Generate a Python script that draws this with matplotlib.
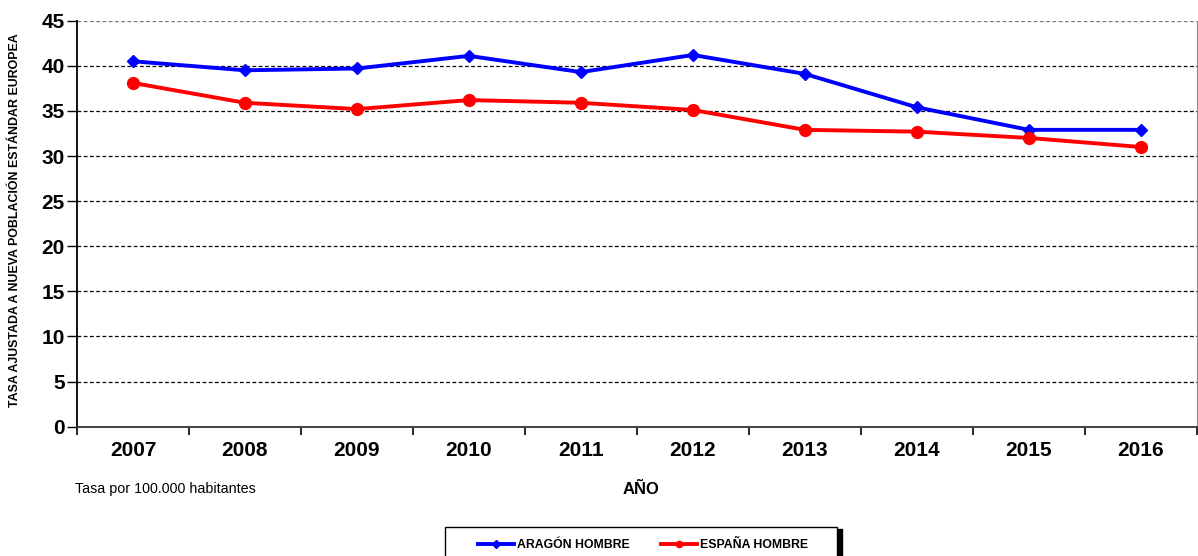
import matplotlib.pyplot as plt
import matplotlib.patches as mpatches
import numpy as np

plt.switch_backend("Agg")
plt.rcParams['font.family'] = ['Liberation Sans', 'DejaVu Sans']

years = ["2007", "2008", "2009", "2010", "2011", "2012", "2013", "2014", "2015", "2016"]
aragon_hombre = [40.5, 39.5, 39.7, 41.1, 39.3, 41.2, 39.1, 35.4, 32.9, 32.9]
espana_hombre = [38.1, 35.9, 35.2, 36.2, 35.9, 35.1, 32.9, 32.7, 32.0, 31.0]
y_ticks = [0, 5, 10, 15, 20, 25, 30, 35, 40, 45]

fig = plt.figure(figsize=(11.98, 5.56), dpi=100)
ax = fig.add_axes([0.0643, 0.2326, 0.9347, 0.7302])

x = np.arange(len(years))
ax.plot(x, aragon_hombre, color='#0000FF', linewidth=2.8, marker='D', markersize=6.5,
        label='ARAGÓN HOMBRE', zorder=3)
ax.plot(x, espana_hombre, color='#FF0000', linewidth=2.8, marker='o', markersize=8.5,
        label='ESPAÑA HOMBRE', zorder=3)

ax.set_xlim(-0.5, len(years) - 0.5)
ax.set_ylim(0, 45)

# category labels at centers, tick marks at boundaries
ax.set_xticks(x)
ax.set_xticklabels(years, fontsize=15, fontweight='bold')
ax.tick_params(axis='x', which='major', length=0, pad=10)
ax.set_xticks(np.arange(-0.5, len(years)), minor=True)
ax.tick_params(axis='x', which='minor', length=6, width=1.2, direction='out', color='black')

ax.set_yticks(y_ticks)
ax.set_yticklabels([str(v) for v in y_ticks], fontsize=15, fontweight='bold')
ax.tick_params(axis='y', length=7, width=1, direction='out', pad=2)

for v in y_ticks[1:]:
    ax.axhline(v, color='black' if v < 45 else '#777777', linestyle=(0, (3, 2)),
               linewidth=0.9, zorder=1)

ax.spines['top'].set_visible(False)
ax.spines['right'].set_color('#888888')
ax.spines['left'].set_linewidth(1.3)
ax.spines['bottom'].set_linewidth(1.3)
ax.spines['bottom'].set_color('#333333')

fig.text(0.0125, 0.604, 'TASA AJUSTADA A NUEVA POBLACIÓN ESTÁNDAR EUROPEA',
         rotation=90, ha='center', va='center', fontsize=8.9, fontweight='bold')
fig.text(0.535, 0.119, 'AÑO', ha='center', va='center', fontsize=12, fontweight='bold')
fig.text(0.063, 0.121, 'Tasa por 100.000 habitantes', ha='left', va='center', fontsize=10.3)

# legend: frame and shadow drawn separately
leg = fig.legend(loc='center', bbox_to_anchor=(0.5368, 0.020), ncol=2,
                 frameon=False, handlelength=2.9, handletextpad=0.25,
                 columnspacing=2.6, prop={'weight': 'bold', 'size': 8.8})
for h in leg.legend_handles:
    h.set_markersize(4.5)
fig.patches.append(mpatches.Rectangle((0.3715, -0.02), 0.327, 0.072, transform=fig.transFigure,
                                      facecolor='white', edgecolor='black', linewidth=1.0,
                                      zorder=0))
fig.patches.append(mpatches.Rectangle((0.6995, -0.02), 0.003, 0.068, transform=fig.transFigure,
                                      color='black', zorder=0))

fig.savefig('out.png', dpi=100)
